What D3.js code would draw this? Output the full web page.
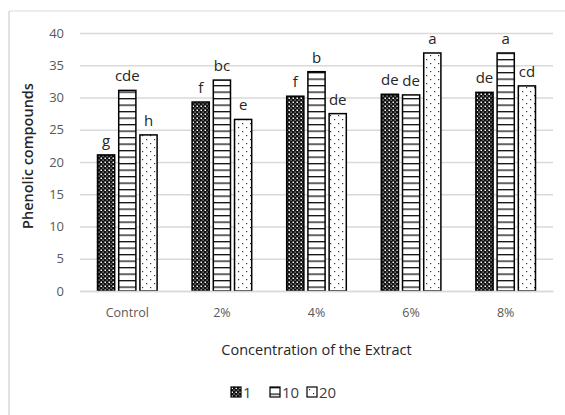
<!DOCTYPE html>
<html>
<head>
<meta charset="utf-8">
<script src="https://cdn.jsdelivr.net/npm/d3@7"></script>
<style>
  body { margin: 0; background: #fff; }
  svg { display: block; font-family: "Open Sans", "Noto Sans", sans-serif; }
</style>
</head>
<body>
<svg id="chart" width="565" height="415"></svg>
<script>
const categories = ["Control", "2%", "4%", "6%", "8%"];
const seriesNames = ["1", "10", "20"];
const values1 = [21.1, 29.3, 30.2, 30.5, 30.8];
const values10 = [31.1, 32.7, 34.0, 30.4, 36.9];
const values20 = [24.2, 26.6, 27.5, 36.9, 31.8];
const letters1 = ["g", "f", "f", "de", "de"];
const letters10 = ["cde", "bc", "b", "de", "a"];
const letters20 = ["h", "e", "de", "a", "cd"];
const yTicks = [0, 5, 10, 15, 20, 25, 30, 35, 40];

const seriesValues = [values1, values10, values20];
const seriesLetters = [letters1, letters10, letters20];
const patternIds = ["pat-dots-dark", "pat-hlines", "pat-dots-light"];

const svg = d3.select("#chart");
const margin = { top: 33, right: 12, bottom: 124, left: 80 };
const width = 565 - margin.left - margin.right;
const height = 415 - margin.top - margin.bottom;

// chart border (only top and left show in the picture)
svg.append("line").attr("x1", 9).attr("x2", 565).attr("y1", 11).attr("y2", 11)
  .attr("stroke", "#d9d9d9").attr("stroke-width", 1);
svg.append("line").attr("x1", 9).attr("x2", 9).attr("y1", 11).attr("y2", 415)
  .attr("stroke", "#d9d9d9").attr("stroke-width", 1.5);

// fill patterns
const defs = svg.append("defs");
const p1 = defs.append("pattern").attr("id", patternIds[0]).attr("patternUnits", "userSpaceOnUse")
  .attr("width", 4).attr("height", 4);
p1.append("rect").attr("width", 4).attr("height", 4).attr("fill", "#111");
p1.append("rect").attr("x", 0.5).attr("y", 0.5).attr("width", 1.5).attr("height", 1.5).attr("fill", "#fff");
p1.append("rect").attr("x", 2.5).attr("y", 2.5).attr("width", 1.2).attr("height", 1.2).attr("fill", "#bbb");

const p2 = defs.append("pattern").attr("id", patternIds[1]).attr("patternUnits", "userSpaceOnUse")
  .attr("width", 6).attr("height", 6.5);
p2.append("rect").attr("width", 6).attr("height", 6.5).attr("fill", "#fff");
p2.append("rect").attr("y", 0).attr("width", 6).attr("height", 1.3).attr("fill", "#111");

const p3 = defs.append("pattern").attr("id", patternIds[2]).attr("patternUnits", "userSpaceOnUse")
  .attr("width", 8).attr("height", 8);
p3.append("rect").attr("width", 8).attr("height", 8).attr("fill", "#fff");
p3.append("rect").attr("x", 2).attr("y", 2).attr("width", 1.2).attr("height", 1.2).attr("fill", "#333");
p3.append("rect").attr("x", 6).attr("y", 6).attr("width", 1.2).attr("height", 1.2).attr("fill", "#333");

const g = svg.append("g").attr("transform", `translate(${margin.left},${margin.top})`);

const x = d3.scaleBand().domain(categories).range([0, width]).paddingInner(0).paddingOuter(0);
const xs = d3.scaleBand().domain(seriesNames).range([17.5, x.bandwidth() - 17.5]).paddingInner(0.19);
const y = d3.scaleLinear().domain([0, 40]).range([height, 0]);

// gridlines
g.append("g")
  .call(d3.axisLeft(y).tickValues(yTicks).tickSize(-width).tickFormat(""))
  .call((a) => a.select(".domain").remove())
  .call((a) => a.selectAll("line").attr("stroke", "#d9d9d9").attr("stroke-width", 1.3));

// y tick labels
g.append("g")
  .call(d3.axisLeft(y).tickValues(yTicks).tickSize(0).tickPadding(16))
  .call((a) => a.select(".domain").remove())
  .call((a) => a.selectAll("text").attr("fill", "#595959").attr("font-size", 13)
    .attr("font-family", "'Open Sans', sans-serif"));

// bars
categories.forEach((cat, ci) => {
  seriesNames.forEach((s, si) => {
    const v = seriesValues[si][ci];
    const bx = x(cat) + xs(s);
    g.append("rect")
      .attr("x", bx)
      .attr("y", y(v))
      .attr("width", xs.bandwidth())
      .attr("height", height - y(v))
      .attr("fill", `url(#${patternIds[si]})`)
      .attr("stroke", "#000")
      .attr("stroke-width", 1.5);
    g.append("text")
      .attr("x", bx + xs.bandwidth() / 2)
      .attr("y", y(v) - 9)
      .attr("text-anchor", "middle")
      .attr("font-size", 15)
      .attr("fill", "#262626")
      .text(seriesLetters[si][ci]);
  });
});

// x axis line and labels
g.append("g")
  .attr("transform", `translate(0,${height})`)
  .call(d3.axisBottom(x).tickSize(0).tickPadding(17))
  .call((a) => a.select(".domain").attr("stroke", "#d9d9d9").attr("stroke-width", 1.3))
  .call((a) => a.selectAll("text").attr("fill", "#595959").attr("font-size", 12.5)
    .attr("font-family", "'Open Sans', sans-serif"));

// axis titles
svg.append("text")
  .attr("x", margin.left + width / 2)
  .attr("y", 355)
  .attr("text-anchor", "middle")
  .attr("font-size", 14.5)
  .attr("fill", "#262626")
  .text("Concentration of the Extract");

svg.append("text")
  .attr("transform", `translate(33,${margin.top + height / 2 - 6}) rotate(-90)`)
  .attr("text-anchor", "middle")
  .attr("font-size", 14.5)
  .attr("font-weight", 600)
  .attr("fill", "#262626")
  .text("Phenolic compounds");

// legend
const legend = svg.append("g").attr("transform", "translate(231,387)");
const legendX = [0, 39, 76];
seriesNames.forEach((s, si) => {
  const lg = legend.append("g").attr("transform", `translate(${legendX[si]},0)`);
  lg.append("rect").attr("width", 10).attr("height", 10)
    .attr("fill", `url(#${patternIds[si]})`).attr("stroke", "#000").attr("stroke-width", 1.2);
  lg.append("text").attr("x", 12).attr("y", 11).attr("font-size", 15)
    .attr("fill", "#404040").text(s);
});
</script>
</body>
</html>
